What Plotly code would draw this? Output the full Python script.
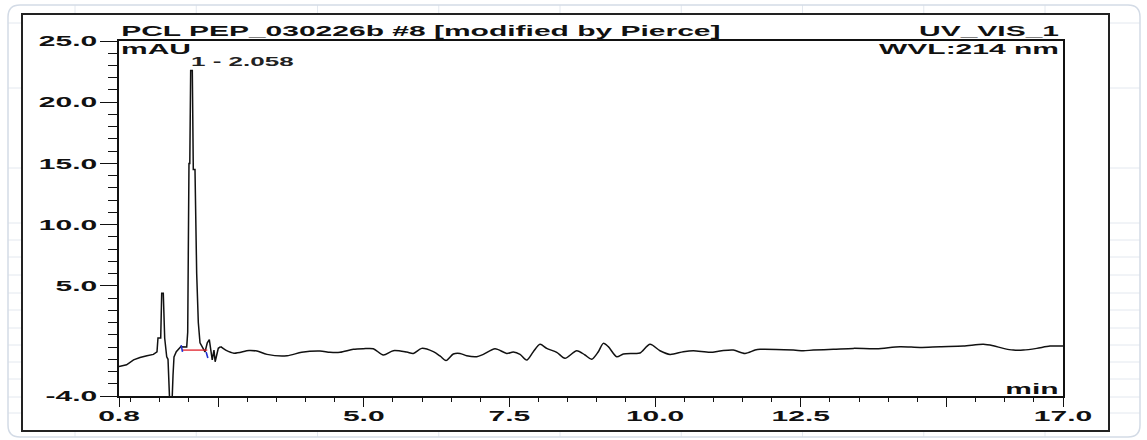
import plotly.graph_objects as go

# ---------------- data ----------------
time_min = [0.80, 0.93, 1.05, 1.16, 1.28, 1.39, 1.452, 1.469, 1.516, 1.533, 1.560, 1.584,
            1.619, 1.641, 1.670, 1.710, 1.727, 1.744, 1.783, 1.859, 1.962, 1.979, 2.001,
            2.015, 2.030, 2.058, 2.075, 2.104, 2.133, 2.161, 2.190, 2.276, 2.315, 2.350,
            2.400, 2.430, 2.450, 2.504, 2.545, 2.631, 2.774, 3.031, 3.168, 3.340, 3.683,
            3.935, 4.249, 4.421, 4.593, 4.821, 4.993, 5.164, 5.336, 5.507, 5.737, 5.851,
            5.995, 6.194, 6.309, 6.412, 6.537, 6.652, 6.767, 6.939, 7.052, 7.253, 7.454,
            7.567, 7.682, 7.797, 7.910, 8.025, 8.140, 8.312, 8.454, 8.655, 8.797, 8.912,
            9.026, 9.111, 9.197, 9.341, 9.455, 9.626, 9.741, 9.913, 10.084, 10.256, 10.484,
            10.656, 10.943, 11.143, 11.342, 11.543, 11.715, 11.801, 12.372, 12.544, 12.715,
            13.058, 13.402, 13.803, 14.203, 14.546, 14.890, 15.290, 15.633, 15.804, 15.976,
            16.148, 16.319, 16.549, 16.777, 17.0]
signal_mau = [-1.60, -1.45, -1.05, -0.85, -0.72, -0.60, -0.40, 0.74, 0.74, 4.40, 4.40, 0.74,
              -0.80, -1.00, -4.50, -4.50, -2.30, -0.80, -0.38, 0.03, 0.00, 1.20, 15.0,
              15.0, 22.6, 22.6, 14.5, 14.5, 6.0, 2.0, 0.35, -0.40, 0.35, 0.60,
              -1.05, -0.25, -1.20, -0.10, 0.03, -0.25, -0.50, -0.28, -0.33, -0.60, -0.71,
              -0.43, -0.33, -0.43, -0.43, -0.19, -0.14, -0.14, -0.65, -0.30, -0.41, -0.52,
              -0.11, -0.38, -0.73, -1.10, -0.57, -0.52, -0.71, -0.79, -0.60, -0.14, -0.52,
              -0.41, -0.60, -1.06, -0.38, 0.22, -0.11, -0.43, -0.92, -0.30, -0.65, -1.00,
              -0.38, 0.30, 0.03, -0.79, -0.57, -0.52, -0.49, 0.22, -0.30, -0.60, -0.38,
              -0.30, -0.43, -0.30, -0.25, -0.52, -0.25, -0.19, -0.25, -0.30, -0.25,
              -0.19, -0.11, -0.14, 0.03, -0.03, 0.03, 0.08, 0.22, 0.10, -0.11,
              -0.25, -0.25, -0.11, 0.08, 0.08]
# index where the sharp peak region ends and the smooth drifting baseline begins
smooth_from = 38

peak_label = "1 - 2.058"
peak_time = 2.058
peak_label_level = 23.3

baseline_time = [1.886, 2.315]
baseline_mau = [-0.25, -0.25]
start_mark_time = [1.866, 1.890]
start_mark_mau = [0.16, -0.40]
end_mark_time = [2.295, 2.325]
end_mark_mau = [-0.40, -0.90]

x_tick_vals = [0.8, 2.5, 5.0, 7.5, 10.0, 12.5, 15.0, 17.0]
x_tick_text = ["0.8", "", "5.0", "7.5", "10.0", "12.5", "", "17.0"]
x_minor_vals = [1.0, 1.5, 2.0, 3.0, 3.5, 4.0, 4.5, 5.5, 6.0, 6.5, 7.0, 8.0, 8.5, 9.0, 9.5,
                10.5, 11.0, 11.5, 12.0, 13.0, 13.5, 14.0, 14.5, 15.5, 16.0, 16.5]
y_tick_vals = [-4.0, 5.0, 10.0, 15.0, 20.0, 25.0]
y_tick_text = ["-4.0", "5.0", "10.0", "15.0", "20.0", "25.0"]
y_minor_vals = [-3, -2, -1, 0, 1, 2, 3, 4, 6, 7, 8, 9, 11, 12, 13, 14, 16, 17, 18, 19,
                21, 22, 23, 24]

title_text = "PCL PEP_030226b #8 [modified by Pierce]"
channel_text = "UV_VIS_1"
wavelength_text = "WVL:214 nm"
y_unit = "mAU"
x_unit = "min"

# ---------------- layout helpers (pixel -> paper) ----------------
W, H = 1147, 440
L, R, T, B = 119, 1063, 41, 396


def X(px):
    return (px - L) / (R - L)


def Y(py):
    return (B - py) / (B - T)


FONT = "Liberation Sans, Arial, sans-serif"
INK = "#111111"

fig = go.Figure()
fig.add_trace(go.Scatter(x=time_min[:smooth_from + 1], y=signal_mau[:smooth_from + 1],
                         mode="lines", line=dict(color="#111111", width=1.5),
                         hoverinfo="skip"))
fig.add_trace(go.Scatter(x=time_min[smooth_from:], y=signal_mau[smooth_from:],
                         mode="lines", line=dict(color="#111111", width=1.5,
                                                 shape="spline", smoothing=0.8),
                         hoverinfo="skip"))
fig.add_trace(go.Scatter(x=baseline_time, y=baseline_mau, mode="lines",
                         line=dict(color="#e0202a", width=1.3), hoverinfo="skip"))
fig.add_trace(go.Scatter(x=start_mark_time, y=start_mark_mau, mode="lines",
                         line=dict(color="#2030d0", width=1.6), hoverinfo="skip"))
fig.add_trace(go.Scatter(x=end_mark_time, y=end_mark_mau, mode="lines",
                         line=dict(color="#2030d0", width=1.6), hoverinfo="skip"))

shapes = []
grid_col = "#e3e8ef"
for k in range(9):
    px = 75 + 121.25 * k
    shapes.append(dict(type="line", xref="paper", yref="paper", layer="below",
                       x0=X(px), x1=X(px), y0=Y(5), y1=Y(437),
                       line=dict(color=grid_col, width=1)))
for py in [23, 88, 168, 223, 240, 257, 275, 293, 310, 328, 345, 362, 379, 397, 413]:
    shapes.append(dict(type="line", xref="paper", yref="paper", layer="below",
                       x0=X(8), x1=X(1140), y0=Y(py), y1=Y(py),
                       line=dict(color=grid_col, width=1)))
r = 12
card = (f"M {X(8 + r)},{Y(5)} L {X(1140 - r)},{Y(5)} Q {X(1140)},{Y(5)} {X(1140)},{Y(5 + r)} "
        f"L {X(1140)},{Y(437 - r)} Q {X(1140)},{Y(437)} {X(1140 - r)},{Y(437)} "
        f"L {X(8 + r)},{Y(437)} Q {X(8)},{Y(437)} {X(8)},{Y(437 - r)} "
        f"L {X(8)},{Y(5 + r)} Q {X(8)},{Y(5)} {X(8 + r)},{Y(5)} Z")
shapes.append(dict(type="path", path=card, xref="paper", yref="paper", layer="below",
                   line=dict(color="#d3dbe6", width=1.5)))
shapes.append(dict(type="rect", xref="paper", yref="paper", layer="below",
                   x0=X(22), x1=X(1109), y0=Y(431), y1=Y(14),
                   fillcolor="white", line=dict(color="#222222", width=2)))

bold = dict(family=FONT, size=15, color=INK, weight="bold")
annotations = [
    dict(text=title_text, xref="paper", yref="paper", x=X(119), y=Y(30.5),
         xanchor="left", yanchor="middle", showarrow=False, font=bold),
    dict(text=channel_text, xref="paper", yref="paper", x=X(1061), y=Y(30.5),
         xanchor="right", yanchor="middle", showarrow=False, font=bold),
    dict(text=wavelength_text, xref="paper", yref="paper", x=X(1061), y=Y(49),
         xanchor="right", yanchor="middle", showarrow=False, font=bold),
    dict(text=y_unit, xref="paper", yref="paper", x=X(119), y=Y(48.5),
         xanchor="left", yanchor="middle", showarrow=False, font=bold),
    dict(text=x_unit, xref="paper", yref="paper", x=X(1061), y=Y(388),
         xanchor="right", yanchor="middle", showarrow=False, font=bold),
    dict(text=peak_label, xref="x", yref="y", x=peak_time, y=peak_label_level,
         xanchor="left", yanchor="middle", xshift=-3, showarrow=False,
         font=dict(family=FONT, size=13, color="#222222", weight="bold")),
]

axis_common = dict(showline=True, linecolor="#111111", linewidth=1.6, mirror=True,
                   ticks="outside", tickcolor="#111111", tickwidth=1.4,
                   showgrid=False, zeroline=False, tickmode="array",
                   tickfont=dict(family=FONT, size=15, color=INK, weight="bold"))

fig.update_layout(
    width=W, height=H, autosize=False,
    margin=dict(l=L, r=W - R, t=T, b=H - B, pad=0),
    paper_bgcolor="white", plot_bgcolor="white",
    showlegend=False, shapes=shapes, annotations=annotations,
    xaxis=dict(range=[0.8, 17.0], tickvals=x_tick_vals, ticktext=x_tick_text, ticklen=9,
               ticklabelstandoff=-4,
               minor=dict(tickmode="array", tickvals=x_minor_vals, ticks="outside", ticklen=4,
                          tickwidth=1.2, tickcolor="#111111"),
               **axis_common),
    yaxis=dict(range=[-4.0, 25.0], tickvals=y_tick_vals, ticktext=y_tick_text, ticklen=17,
               minor=dict(tickmode="array", tickvals=y_minor_vals, ticks="outside", ticklen=9,
                          tickwidth=1.2, tickcolor="#111111"),
               **axis_common),
)

post_js = """
document.body.style.margin='0';
var gd=document.getElementById('{plot_id}');
var S=2.0;
function sx(t, anchor){
  var bb=t.getBBox();
  var ax = anchor==='start' ? bb.x : (anchor==='end' ? bb.x+bb.width : bb.x+bb.width/2);
  var tr=t.getAttribute('transform')||'';
  t.setAttribute('transform', tr+' translate('+ax+',0) scale('+S+',1) translate('+(-ax)+',0)');
}
gd.querySelectorAll('g.xtick text, g.ytick text').forEach(function(t){
  sx(t, t.getAttribute('text-anchor')||'middle');
});
gd.querySelectorAll('g.annotation').forEach(function(g){
  var a=gd.layout.annotations[+g.getAttribute('data-index')];
  var t=g.querySelector('text'); if(!t||!a) return;
  var m={left:'start',right:'end'}[a.xanchor]||'middle';
  sx(t,m);
});
"""

fig.write_html("out.html", config={"displayModeBar": False, "responsive": False},
               post_script=post_js)
